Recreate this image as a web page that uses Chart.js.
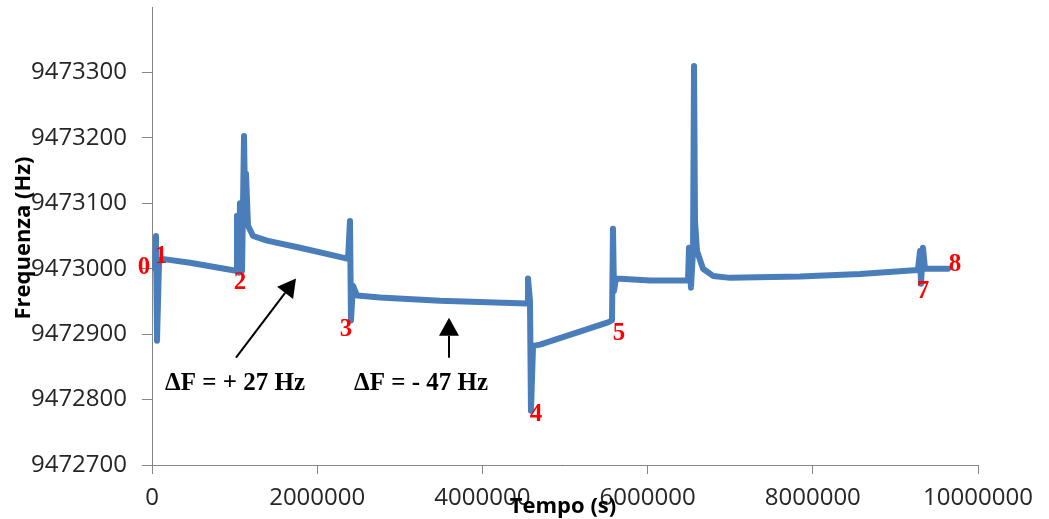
<!DOCTYPE html>
<html lang="it">
<head>
    <meta charset="UTF-8">
    <title>Frequenza vs Tempo</title>
    <script src="https://cdn.jsdelivr.net/npm/chart.js"></script>
    <style>
        html, body { margin: 0; padding: 0; background: #ffffff; }
        #wrap { width: 1049px; height: 519px; }
    </style>
</head>
<body>
    <div id="wrap"><canvas id="freq-chart" width="1049" height="519"></canvas></div>

    <script>
        // Tempo (s) and measured frequency (Hz), traced vertices of the run
        const timeS = [
            36000, 48000, 60500, 85000, 121000, 460000, 1017000,
            1029000, 1053000, 1065000, 1090000, 1114000, 1126000, 1138000, 1162000,
            1223000, 1392000, 1792000, 2312000, 2373000, 2397000, 2409000, 2433000,
            2482000, 2760000, 3487000, 4540000, 4552000, 4576000, 4588000, 4613000,
            4697000, 5520000, 5569000, 5581000, 5593000, 5617000, 6029000, 6489000,
            6501000, 6525000, 6550000, 6562000, 6574000, 6598000, 6671000, 6792000,
            6997000, 7845000, 8571000, 9273000, 9298000, 9310000, 9334000, 9358000,
            9637000
        ];
        const freqHz = [
            9473000, 9473050, 9472890, 9473009, 9473015, 9473009, 9472997,
            9473081, 9472994, 9473100, 9472997, 9473203, 9473104, 9473145, 9473066,
            9473050, 9473043, 9473032, 9473017, 9473015, 9473073, 9472921, 9472974,
            9472959, 9472956, 9472951, 9472947, 9472985, 9472951, 9472783, 9472882,
            9472884, 9472918, 9472921, 9473061, 9472966, 9472985, 9472982, 9472982,
            9473032, 9472971, 9473027, 9473310, 9473073, 9473027, 9473000, 9472989,
            9472986, 9472988, 9472992, 9472998, 9473027, 9472977, 9473032, 9473000,
            9473000
        ];

        // axis ticks
        const xTicks = [0, 2000000, 4000000, 6000000, 8000000, 10000000];
        const yTicks = [9472700, 9472800, 9472900, 9473000, 9473100, 9473200, 9473300];

        // step numbers written next to the trace (label, tempo, frequenza)
        const stepLabels = ['0', '1', '2', '3', '4', '5', '7', '8'];
        const stepX = [-97000, 109000, 1065000, 2349000, 4649000, 5654000, 9334000, 9721000];
        const stepY = [9473002, 9473018, 9472979, 9472907, 9472777, 9472901, 9472965, 9473006];

        // ΔF notes with their arrows (text centre, arrow tail, arrow head)
        const noteText = ['\u0394F = + 27 Hz', '\u0394F = - 47 Hz'];
        const noteX = [1005000, 3257000];
        const noteY = [9472824, 9472824];
        const arrowFromX = [1017000, 3595600];
        const arrowFromY = [9472864, 9472864];
        const arrowToX = [1743000, 3595600];
        const arrowToY = [9472985, 9472925];

        const points = timeS.map((t, i) => ({ x: t, y: freqHz[i] }));

        const notesPlugin = {
            id: 'notes',
            afterDatasetsDraw(chart) {
                const ctx = chart.ctx;
                const xs = chart.scales.x, ys = chart.scales.y;
                ctx.save();

                // arrows
                ctx.strokeStyle = '#000';
                ctx.fillStyle = '#000';
                ctx.lineWidth = 2;
                for (let i = 0; i < noteText.length; i++) {
                    const x0 = xs.getPixelForValue(arrowFromX[i]);
                    const y0 = ys.getPixelForValue(arrowFromY[i]);
                    const x1 = xs.getPixelForValue(arrowToX[i]);
                    const y1 = ys.getPixelForValue(arrowToY[i]);
                    const a = Math.atan2(y1 - y0, x1 - x0);
                    const len = 18, half = 10;
                    const bx = x1 - len * Math.cos(a), by = y1 - len * Math.sin(a);
                    ctx.beginPath();
                    ctx.moveTo(x0, y0);
                    ctx.lineTo(bx, by);
                    ctx.stroke();
                    ctx.beginPath();
                    ctx.moveTo(x1, y1);
                    ctx.lineTo(bx + half * Math.sin(a), by - half * Math.cos(a));
                    ctx.lineTo(bx - half * Math.sin(a), by + half * Math.cos(a));
                    ctx.closePath();
                    ctx.fill();
                }

                ctx.textAlign = 'center';
                ctx.textBaseline = 'middle';
                ctx.font = 'bold 25px "Liberation Serif"';
                for (let i = 0; i < noteText.length; i++) {
                    ctx.fillText(noteText[i], xs.getPixelForValue(noteX[i]), ys.getPixelForValue(noteY[i]));
                }

                // step numbers
                ctx.fillStyle = '#ff0000';
                ctx.font = 'bold 25px "Liberation Serif"';
                for (let i = 0; i < stepLabels.length; i++) {
                    ctx.fillText(stepLabels[i], xs.getPixelForValue(stepX[i]), ys.getPixelForValue(stepY[i]));
                }

                // axis titles
                ctx.fillStyle = '#000';
                ctx.font = 'bold 22px "Open Sans"';
                ctx.fillText('Tempo (s)', (chart.chartArea.left + chart.chartArea.right) / 2 - 2, 507);
                ctx.translate(24, (chart.chartArea.top + chart.chartArea.bottom) / 2 + 2);
                ctx.rotate(-Math.PI / 2);
                ctx.fillText('Frequenza (Hz)', 0, 0);
                ctx.restore();
            }
        };

        const axisGray = '#868686';
        const tickFont = { family: '"Open Sans"', size: 24 };

        // keep the plot box fixed: no extra room for half tick labels
        const noPad = s => { s.paddingTop = 0; s.paddingBottom = 0; s.paddingLeft = 0; s.paddingRight = 0; };

        new Chart(document.getElementById('freq-chart'), {
            type: 'line',
            data: {
                datasets: [{
                    data: points,
                    borderColor: '#4a7ebb',
                    borderWidth: 6,
                    borderJoinStyle: 'round',
                    borderCapStyle: 'round',
                    pointRadius: 0,
                    tension: 0,
                    fill: false
                }]
            },
            options: {
                responsive: false,
                animation: false,
                layout: { padding: { left: 0, top: 7, right: 71, bottom: 0 } },
                plugins: {
                    legend: { display: false },
                    tooltip: { enabled: false }
                },
                scales: {
                    x: {
                        type: 'linear',
                        min: xTicks[0],
                        max: xTicks[xTicks.length - 1],
                        afterBuildTicks: s => { s.ticks = xTicks.map(v => ({ value: v })); },
                        afterFit: s => { s.height = 54; noPad(s); },
                        grid: { display: true, drawOnChartArea: false, tickLength: 9, tickColor: axisGray },
                        border: { display: true, color: axisGray, width: 1 },
                        ticks: {
                            color: '#262626',
                            font: tickFont,
                            padding: 10,
                            maxRotation: 0,
                            callback: v => String(v)
                        }
                    },
                    y: {
                        type: 'linear',
                        min: 9472700,
                        max: 9473400,
                        afterBuildTicks: s => { s.ticks = yTicks.map(v => ({ value: v })); },
                        afterFit: s => { s.width = 152; noPad(s); },
                        grid: { display: true, drawOnChartArea: false, tickLength: 10, tickColor: axisGray },
                        border: { display: true, color: axisGray, width: 1 },
                        ticks: {
                            color: '#262626',
                            font: tickFont,
                            padding: 15,
                            callback: v => String(v)
                        }
                    }
                }
            },
            plugins: [notesPlugin]
        });
    </script>
</body>
</html>
